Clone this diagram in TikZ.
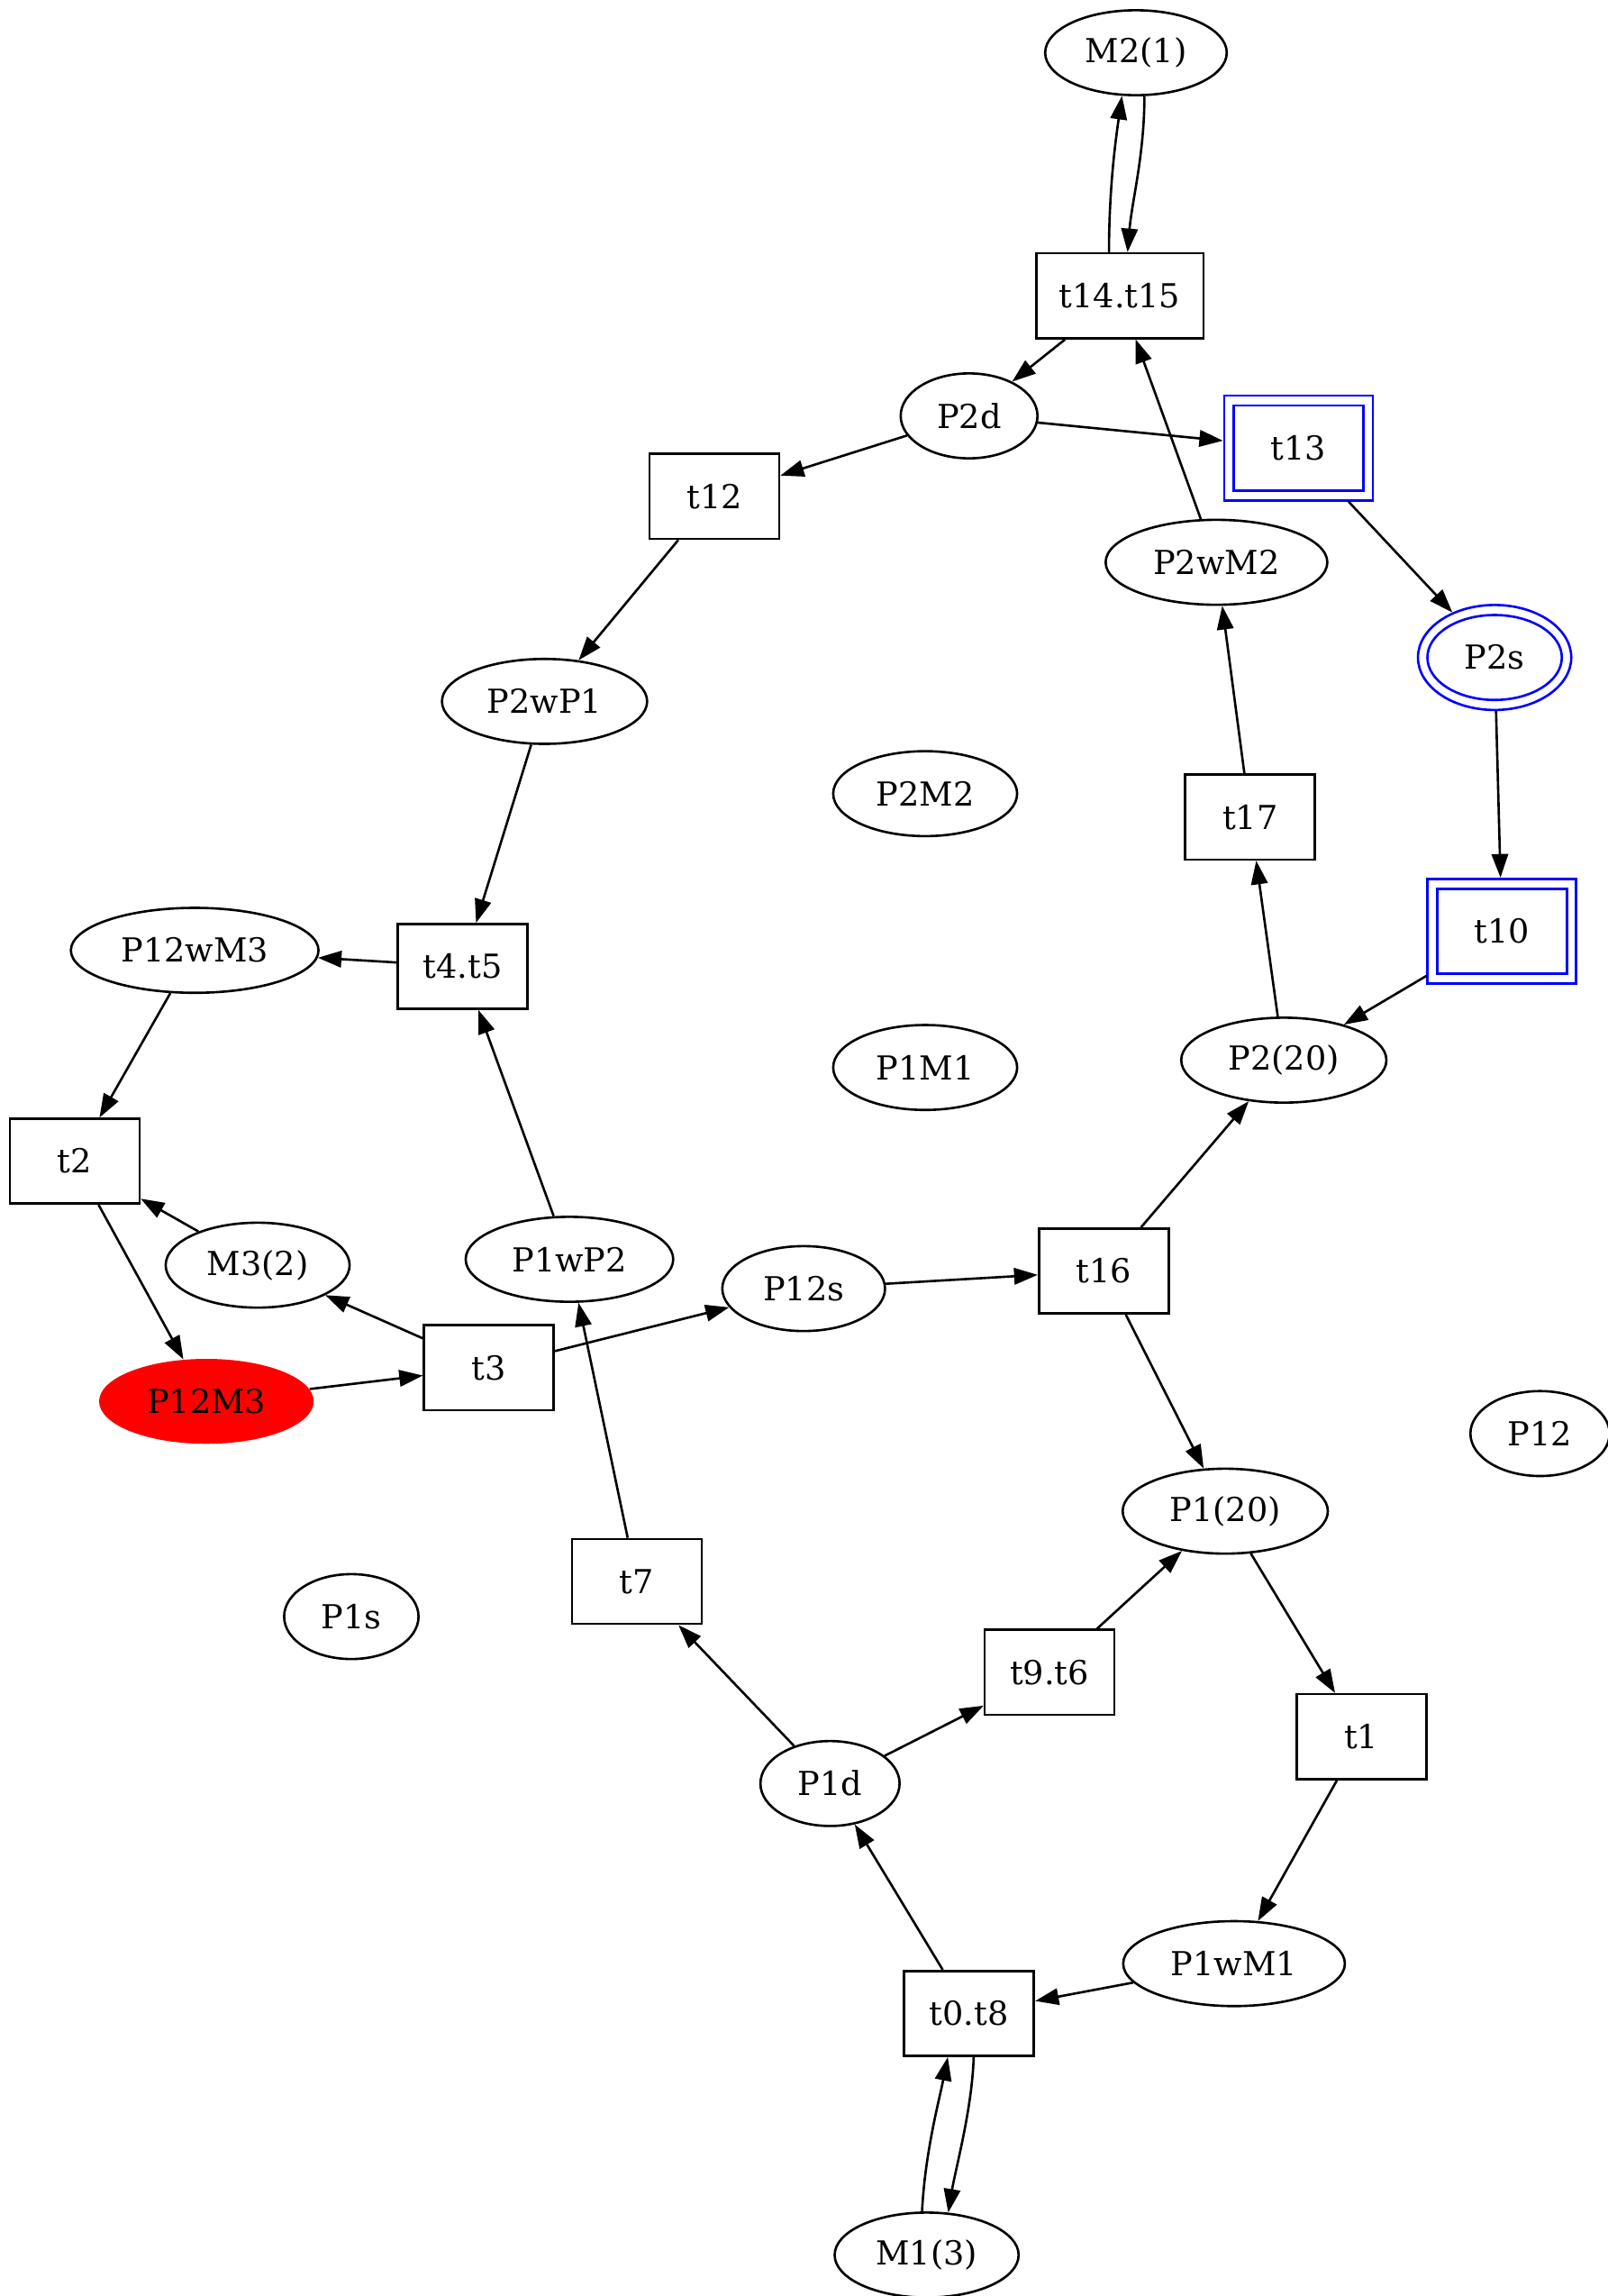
\documentclass[tikz,border=0pt]{standalone}
\usepackage{fontspec}
\setmainfont{DejaVu Serif}
\usetikzlibrary{arrows.meta,shapes.geometric}
\begin{document}
\begin{tikzpicture}[x=0.6207pt,y=-0.6207pt,
  every node/.style={font=\fontsize{14}{16}\selectfont, inner sep=0pt},
  pl/.style={ellipse,draw,line width=1pt,minimum height=36pt},
  tr/.style={rectangle,draw,line width=1pt,minimum height=36pt,minimum width=55pt},
  bpl/.style={ellipse,draw=blue,line width=1pt,minimum height=36pt,minimum width=57pt},
  bplo/.style={ellipse,draw=blue,line width=1pt,minimum height=44.5pt,minimum width=65pt},
  btr/.style={rectangle,draw=blue,line width=1pt,minimum height=36pt,minimum width=55pt},
  btro/.style={rectangle,draw=blue,line width=1pt,minimum height=44.5pt,minimum width=63pt},
  redpl/.style={ellipse,fill=red,minimum height=36pt},
  arr/.style={-{Triangle[length=10pt,width=7pt]},line width=1pt}]
\useasboundingbox (0,0) rectangle (1098,1568);
% places
\node[pl,minimum width=77pt] (M2) at (776,36) {M2(1)};
\node[pl,minimum width=58pt] (P2d) at (662,284) {P2d};
\node[pl,minimum width=94pt] (P2wM2) at (831,384) {P2wM2};
\node[bplo] (P2so) at (1021,449) {};
\node[bpl] (P2s) at (1021,449) {P2s};
\node[pl,minimum width=87pt] (P2wP1) at (372,479) {P2wP1};
\node[pl,minimum width=78pt] (P2M2) at (632,542) {P2M2};
\node[pl,minimum width=105pt] (P12wM3) at (133,649) {P12wM3};
\node[pl,minimum width=78pt] (P1M1) at (632,729) {P1M1};
\node[pl,minimum width=87pt] (P220) at (877,724) {P2(20)};
\node[pl,minimum width=78pt] (M3) at (176,864) {M3(2)};
\node[pl,minimum width=88pt] (P1wP2) at (389,860) {P1wP2};
\node[pl,minimum width=69pt] (P12s) at (549,880) {P12s};
\node[redpl,minimum width=91pt] (P12M3) at (141,957) {P12M3};
\node[pl,minimum width=59pt] (P12) at (1052,979) {P12};
\node[pl,minimum width=87pt] (P120) at (837,1032) {P1(20)};
\node[pl,minimum width=57pt] (P1s) at (240,1104) {P1s};
\node[pl,minimum width=59pt] (P1d) at (567,1218) {P1d};
\node[pl,minimum width=94pt] (P1wM1) at (843,1341) {P1wM1};
\node[pl,minimum width=78pt] (M1) at (633,1540) {M1(3)};
% transitions
\node[tr,minimum width=71pt] (t1415) at (765,202) {t14.t15};
\node[btro] (t13o) at (887,306) {};
\node[btr] (t13) at (887,306) {t13};
\node[tr] (t12) at (488,339) {t12};
\node[tr] (t17) at (854,558) {t17};
\node[btro] (t10o) at (1026,636) {};
\node[btr] (t10) at (1026,636) {t10};
\node[tr] (t45) at (316,660) {t4.t5};
\node[tr] (t2) at (51,793) {t2};
\node[tr] (t16) at (754,868) {t16};
\node[tr] (t3) at (334,934) {t3};
\node[tr] (t7) at (435,1080) {t7};
\node[tr] (t96) at (717,1142) {t9.t6};
\node[tr] (t1) at (930,1186) {t1};
\node[tr] (t08) at (662,1375) {t0.t8};
% edges
\draw[arr] (t1415.104) .. controls +(0,-45) and +(-4,28) .. (M2.252);
\draw[arr] (M2.281) .. controls +(0,40) and +(3,-35) .. (t1415.80);
\draw[arr] (t1415) -- (P2d);
\draw[arr] (P2d) -- (t12);
\draw[arr] (P2d) -- (t13o);
\draw[arr] (P2wM2) -- (t1415);
\draw[arr] (t13o) -- (P2so);
\draw[arr] (t12) -- (P2wP1);
\draw[arr] (t17) -- (P2wM2);
\draw[arr] (P2so) -- (t10o);
\draw[arr] (P2wP1) -- (t45);
\draw[arr] (t10o) -- (P220);
\draw[arr] (P220) -- (t17);
\draw[arr] (t45) -- (P12wM3);
\draw[arr] (P12wM3) -- (t2);
\draw[arr] (P1wP2) -- (t45);
\draw[arr] (M3) -- (t2);
\draw[arr] (t2) -- (P12M3);
\draw[arr] (t3) -- (M3);
\draw[arr] (t3) -- (P12s);
\draw[arr] (P12s) -- (t16);
\draw[arr] (t16) -- (P220);
\draw[arr] (t16) -- (P120);
\draw[arr] (P12M3) -- (t3);
\draw[arr] (t7) -- (P1wP2);
\draw[arr] (t96) -- (P120);
\draw[arr] (P120) -- (t1);
\draw[arr] (P1d) -- (t7);
\draw[arr] (P1d) -- (t96);
\draw[arr] (t1) -- (P1wM1);
\draw[arr] (t08) -- (P1d);
\draw[arr] (P1wM1) -- (t08);
\draw[arr] (M1.96) .. controls +(2,-40) and +(-6,30) .. (t08.244);
\draw[arr] (t08.276) .. controls +(-1,35) and +(5,-30) .. (M1.63);
\end{tikzpicture}
\end{document}
